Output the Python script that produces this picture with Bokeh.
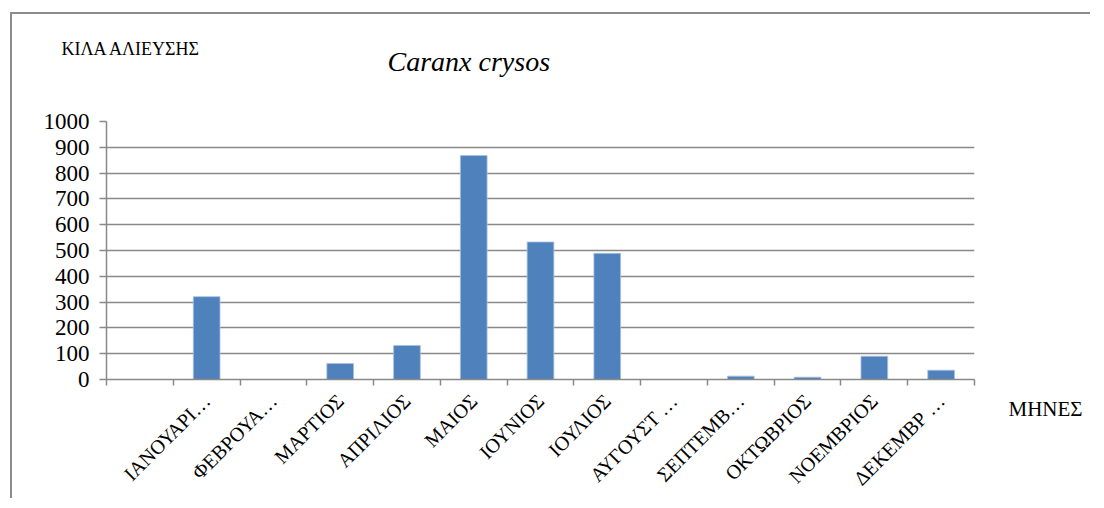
import math
import numpy as np
from bokeh.plotting import figure
from bokeh.models import Range1d, FixedTicker, ColumnDataSource, Title
from bokeh.embed import file_html
from bokeh.resources import INLINE

# ---- data ----
categories = ["", "ΙΑΝΟΥΑΡΙ…", "ΦΕΒΡΟΥΑ…", "ΜΑΡΤΙΟΣ", "ΑΠΡΙΛΙΟΣ", "ΜΑΙΟΣ",
              "ΙΟΥΝΙΟΣ", "ΙΟΥΛΙΟΣ", "ΑΥΓΟΥΣΤ …", "ΣΕΠΤΕΜΒ…", "ΟΚΤΩΒΡΙΟΣ",
              "ΝΟΕΜΒΡΙΟΣ", "ΔΕΚΕΜΒΡ …"]
values = [np.nan, 321, 0, 62, 132, 868, 533, 489, 0, 13, 9, 90, 36]
y_ticks = [0, 100, 200, 300, 400, 500, 600, 700, 800, 900, 1000]
title_text = "Caranx crysos"
y_label_text = "ΚΙΛΑ ΑΛΙΕΥΣΗΣ"
x_label_text = "ΜΗΝΕΣ"

n = len(categories)
centers = np.arange(n) + 0.5
bounds = list(np.arange(n + 1).astype(float))

W, H = 1080, 486
GRAY = "#898989"
SERIF = "Liberation Serif"

p = figure(width=W, height=H, output_backend="svg", toolbar_location=None,
           x_range=Range1d(0, n), y_range=Range1d(0, max(y_ticks)),
           min_border_left=94, min_border_right=118, min_border_top=107,
           min_border_bottom=120, margin=(12, 0, 0, 10),
           styles={"border-top": "2px solid #8c8c8c", "border-left": "2px solid #8c8c8c"})
p.outline_line_color = None
p.background_fill_color = "white"
p.border_fill_color = "white"

src = ColumnDataSource(dict(x=centers, top=values))
p.vbar(x="x", top="top", width=0.4, source=src, fill_color="#4F81BD",
       line_color="#a9c0de", line_width=0.8)

# y axis
yax = p.yaxis[0]
yax.ticker = FixedTicker(ticks=y_ticks)
yax.axis_line_color = GRAY
yax.axis_line_width = 1.5
yax.major_tick_line_color = GRAY
yax.major_tick_line_width = 1.5
yax.major_tick_in = 0
yax.major_tick_out = 7
yax.minor_tick_line_color = None
yax.major_label_text_font = SERIF
yax.major_label_text_font_size = "23px"
yax.major_label_text_color = "black"
yax.major_label_standoff = 10

# x axis
xax = p.xaxis[0]
xax.ticker = FixedTicker(ticks=list(centers), minor_ticks=bounds)
xax.major_label_overrides = {float(c): lab for c, lab in zip(centers, categories)}
xax.axis_line_color = GRAY
xax.axis_line_width = 1.5
xax.major_tick_line_color = None
xax.major_tick_in = 0
xax.major_tick_out = 6
xax.minor_tick_line_color = GRAY
xax.minor_tick_line_width = 1.5
xax.minor_tick_in = 0
xax.minor_tick_out = 6
xax.major_label_orientation = math.pi / 4
xax.major_label_text_font = SERIF
xax.major_label_text_font_size = "20px"
xax.major_label_text_color = "black"
xax.major_label_standoff = 12

p.xgrid.grid_line_color = None
p.ygrid.ticker = FixedTicker(ticks=y_ticks)
p.ygrid.grid_line_color = GRAY
p.ygrid.grid_line_width = 1.5

# free texts as titles in the side panels
# spacer title filling the top border, so the next titles are placed from the canvas top
p.add_layout(Title(text=" ", text_font_size="1px", standoff=104), "above")
p.add_layout(Title(text=title_text, text_font=SERIF, text_font_style="italic",
                   text_color="black", text_font_size="28px", align="left",
                   offset=281, standoff=-124), "above")
p.add_layout(Title(text=y_label_text, text_font=SERIF, text_font_style="normal",
                   text_color="black", text_font_size="18px", align="left",
                   offset=-45, standoff=-88), "above")
p.add_layout(Title(text=x_label_text, text_font=SERIF, text_font_style="normal",
                   text_color="black", text_font_size="21px", align="left",
                   vertical_align="top", offset=902, standoff=-208), "below")

open("out.html", "w").write(file_html(p, INLINE))
